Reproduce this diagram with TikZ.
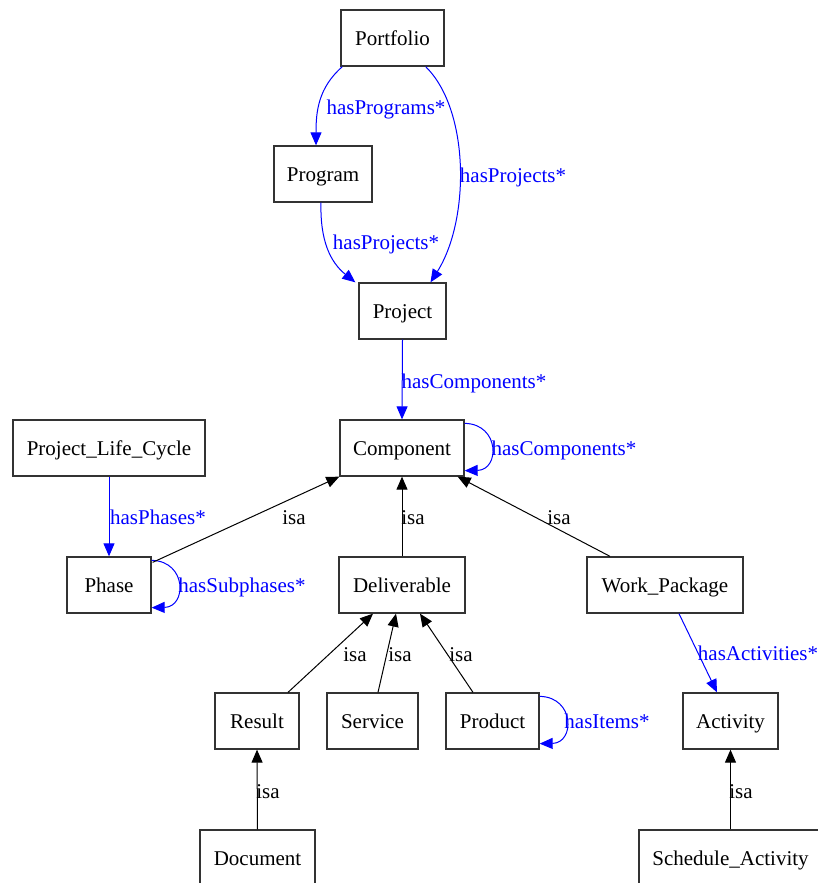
\documentclass[tikz,border=0pt]{standalone}
\usepackage{fontspec}
\setmainfont{Liberation Serif}
\newfontfamily\timesfont{Liberation Serif}
\usetikzlibrary{arrows.meta}
\definecolor{eblue}{RGB}{0,0,255}
\tikzset{
  tfont/.style={font=\timesfont\fontsize{21}{24}\selectfont, text height=14.5pt, text depth=0pt},
  box/.style={tfont, draw=black!80, line width=1.3pt, inner sep=0pt, minimum height=56pt},
  lbl/.style={tfont, inner sep=0pt},
  blbl/.style={lbl, text=eblue},
  tip/.style={-{Triangle[length=13pt,width=11pt]}},
  rel/.style={tip, draw=eblue, line width=1pt},
  isa/.style={tip, draw=black, line width=1pt},
}
\begin{document}
\begin{tikzpicture}[x=1pt,y=-1pt]
\useasboundingbox (0,0) rectangle (818,883);
\clip (0,0) rectangle (818,883);
% nodes
\node[box, minimum width=103pt] (port) at (392.5,38) {Portfolio};
\node[box, minimum width=98pt] (prog) at (323,174) {Program};
\node[box, minimum width=87pt] (proj) at (402.5,311) {Project};
\node[box, minimum width=124pt] (comp) at (402,448) {Component};
\node[box, minimum width=192pt] (plc) at (109,448) {Project\_Life\_Cycle};
\node[box, minimum width=84pt] (phase) at (109,585) {Phase};
\node[box, minimum width=126pt] (deliv) at (402,585) {Deliverable};
\node[box, minimum width=156pt] (wp) at (665,585) {Work\_Package};
\node[box, minimum width=84pt] (res) at (257,721) {Result};
\node[box, minimum width=91pt] (serv) at (372.5,721) {Service};
\node[box, minimum width=93pt] (prod) at (492.5,721) {Product};
\node[box, minimum width=95pt] (act) at (730.5,721) {Activity};
\node[box, minimum width=115pt] (doc) at (257.5,858) {Document};
\node[box, minimum width=183pt] (sched) at (730.5,858) {Schedule\_Activity};
% blue relations
\draw[rel] ([xshift=2pt]port.south west) .. controls (318,88) and (316,112) .. ([xshift=-7pt]prog.north);
\draw[rel] ([xshift=-19pt]port.south east) .. controls (470,110) and (470,220) .. ([xshift=28pt]proj.north);
\draw[rel] ([xshift=-2pt]prog.south) .. controls (320,240) and (330,262) .. ([xshift=-3pt]proj.north west);
\draw[rel] (proj.south) -- (comp.north);
\draw[rel] ([yshift=-4pt]comp.north east) .. controls (500,424) and (500,470) .. ([yshift=6pt]comp.south east);
\draw[rel] (plc.south) -- (phase.north);
\draw[rel] ([yshift=-4pt]phase.north east) .. controls (187,561) and (187,607) .. ([yshift=6pt]phase.south east);
\draw[rel] ([yshift=-4pt]prod.north east) .. controls (575,697) and (575,743) .. ([yshift=6pt]prod.south east);
\draw[rel] ([xshift=14pt]wp.south) -- ([xshift=-13.5pt]act.north);
% isa relations
\draw[isa] ([xshift=1pt,yshift=-6pt]phase.north east) -- (comp.south west);
\draw[isa] (deliv.north) -- (comp.south);
\draw[isa] ([xshift=-55pt]wp.north) -- ([xshift=-7pt]comp.south east);
\draw[isa] ([xshift=31pt]res.north) -- ([xshift=-29pt]deliv.south);
\draw[isa] ([xshift=5.5pt]serv.north) -- ([xshift=-6pt]deliv.south);
\draw[isa] ([xshift=-19.5pt]prod.north) -- ([xshift=18pt]deliv.south);
\draw[isa] (doc.north) -- (res.south);
\draw[isa] (sched.north) -- (act.south);
% labels
\node[blbl] (l1) at (386,107) {hasPrograms*};
\node[blbl] (l2) at (513,175) {hasProjects*};
\node[blbl] (l3) at (386,242) {hasProjects*};
\node[blbl] (l4) at (474,381) {hasComponents*};
\node[blbl] (l5) at (564,448) {hasComponents*};
\node[blbl] (l6) at (158,517) {hasPhases*};
\node[blbl] (l7) at (242,585) {hasSubphases*};
\node[blbl] (l8) at (607,721) {hasItems*};
\node[blbl] (l9) at (758,653) {hasActivities*};
\node[lbl] (i1) at (294,517) {isa};
\node[lbl] (i2) at (413,517) {isa};
\node[lbl] (i3) at (559,517) {isa};
\node[lbl] (i4) at (355,654) {isa};
\node[lbl] (i5) at (400,654) {isa};
\node[lbl] (i6) at (461,654) {isa};
\node[lbl] (i7) at (268,791) {isa};
\node[lbl] (i8) at (741,791) {isa};
\end{tikzpicture}
\end{document}
